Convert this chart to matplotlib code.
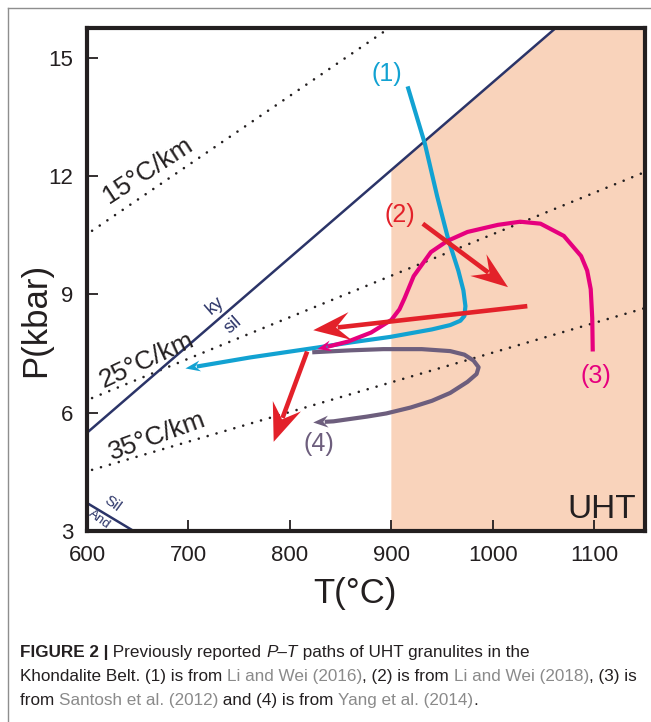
import matplotlib
matplotlib.use('Agg')
import matplotlib.pyplot as plt
import numpy as np
from matplotlib.patches import Polygon
from matplotlib.lines import Line2D

plt.rcParams['font.family'] = ['Liberation Sans', 'DejaVu Sans']

# --- data (T in deg C, P in kbar) ---
x_ticks = [600, 700, 800, 900, 1000, 1100]
y_ticks = [3, 6, 9, 12, 15]

geo_names = ['15°C/km', '25°C/km', '35°C/km']
geo_T = [[605, 898], [605, 1150], [605, 1150]]
geo_P = [[10.61, 15.75], [6.37, 12.1], [4.55, 8.65]]
geo_lab_T = [660, 659, 669]
geo_lab_P = [12.15, 7.32, 5.40]
geo_lab_rot = [33, 25, 20]

kysil_T = [600, 1062]
kysil_P = [5.49, 15.75]
siland_T = [600, 646]
siland_P = [3.71, 3.0]
uht_T = 900

# path (1) Li and Wei 2016
p1_T = [916, 933, 945, 956, 966, 971, 973, 972, 968, 958, 940, 899, 860, 827, 761, 697]
p1_P = [14.27, 12.82, 11.5, 10.40, 9.6, 9.1, 8.7, 8.45, 8.33, 8.22, 8.11, 7.92, 7.78, 7.65, 7.40, 7.12]

# path (2) Li and Wei 2018 (three arrows)
p2a_T = [931, 1015]
p2a_P = [10.79, 9.18]
p2b_T = [1034, 823]
p2b_P = [8.70, 8.09]
p2c_T = [817, 784]
p2c_P = [7.55, 5.26]

# path (3) Santosh et al. 2012
p3_T = [1098.5, 1098, 1096.5, 1093, 1087, 1070, 1047, 1027, 1005, 975, 955, 939,
        922, 913, 908, 900, 880, 857, 840, 827]
p3_P = [7.55, 8.4, 9.13, 9.6, 9.97, 10.48, 10.79, 10.84, 10.76, 10.58, 10.35, 10.07,
        9.46, 8.9, 8.62, 8.35, 8.03, 7.80, 7.69, 7.61]

# path (4) Yang et al. 2014
p4_T = [822, 860, 892, 930, 958, 972, 981, 986, 984, 975, 958, 940, 919, 895, 876, 843, 823]
p4_P = [7.53, 7.58, 7.61, 7.61, 7.56, 7.47, 7.32, 7.15, 6.98, 6.78, 6.50, 6.30, 6.13,
        5.98, 5.90, 5.78, 5.75]

path_labels = ['(1)', '(2)', '(3)', '(4)']
path_lab_T = [896, 908, 1101.5, 829]
path_lab_P = [14.58, 11.02, 6.92, 5.21]

# colours
dark = '#231F20'
navy = '#2B3468'
cyan = '#12A2D2'
red = '#E3212A'
magenta = '#E6007E'
purple = '#6D5E7D'
peach = '#F9D3BB'
linkc = '#8A8A8A'


def walk_back(pts, dist):
    acc = 0.0
    for i in range(len(pts) - 1, 0, -1):
        seg = pts[i] - pts[i - 1]
        s = np.hypot(seg[0], seg[1])
        if acc + s >= dist:
            f = (dist - acc) / s
            return pts[i] - seg * f, i
        acc += s
    return pts[0], 1


def arrow_path(ax, T, P, color, lw, hl, hw, notch, capstyle='butt'):
    tr = ax.transData
    inv = tr.inverted()
    pts = tr.transform(np.column_stack([T, P]))
    tip = pts[-1]
    back, _ = walk_back(pts, hl)
    d = (tip - back) / np.hypot(*(tip - back))
    n = np.array([-d[1], d[0]])
    cut, i = walk_back(pts, hl - notch + 1.5)
    shaft = inv.transform(np.vstack([pts[:i], cut]))
    ax.plot(shaft[:, 0], shaft[:, 1], color=color, lw=lw, solid_capstyle=capstyle,
            solid_joinstyle='round', zorder=4)
    head = np.array([tip,
                     tip - hl * d + hw / 2 * n,
                     tip - (hl - notch) * d,
                     tip - hl * d - hw / 2 * n])
    ax.add_patch(Polygon(inv.transform(head), closed=True, facecolor=color,
                         edgecolor='none', zorder=5))


fig = plt.figure(figsize=(6.51, 7.22), dpi=100)
ax = fig.add_axes([87 / 651, 191 / 722, 558 / 651, 503 / 722])
ax.set_xlim(600, 1150)
ax.set_ylim(3, 15.75)

# UHT field bounded by the ky-sil line
p_at_uht = np.interp(uht_T, kysil_T, kysil_P)
ax.fill([uht_T, uht_T, kysil_T[1], 1150, 1150],
        [3, p_at_uht, kysil_P[1], 15.75, 3], color=peach, lw=0, zorder=0)

# geotherms
for k in range(3):
    ax.plot(geo_T[k], geo_P[k], color=dark, lw=1.9, linestyle=(0, (0.01, 3.5)),
            dash_capstyle='round', zorder=2)
    ax.text(geo_lab_T[k], geo_lab_P[k], geo_names[k], fontsize=19, color=dark,
            rotation=geo_lab_rot[k], ha='center', va='center', zorder=3)

# reaction lines
ax.plot(kysil_T, kysil_P, color=navy, lw=1.8, zorder=2)
ax.plot(siland_T, siland_P, color=navy, lw=1.8, zorder=2)
ax.text(726, 8.72, 'ky', fontsize=13, color=navy, rotation=41, ha='center', va='center')
ax.text(744, 8.22, 'sil', fontsize=13, color=navy, rotation=41, ha='center', va='center')
ax.text(625, 3.70, 'Sil', fontsize=11, color=navy, rotation=-36, ha='center', va='center')
ax.text(612, 3.30, 'And', fontsize=9.5, color=navy, rotation=-36, ha='center', va='center')

# P-T paths
arrow_path(ax, p1_T, p1_P, cyan, 3.0, 15, 11, 5, capstyle='butt')
arrow_path(ax, p3_T, p3_P, magenta, 3.0, 14, 11, 5)
arrow_path(ax, p4_T, p4_P, purple, 3.0, 15, 12, 5)
arrow_path(ax, p2b_T, p2b_P, red, 3.3, 37, 28, 14)
arrow_path(ax, p2c_T, p2c_P, red, 3.3, 38, 30, 14)
arrow_path(ax, p2a_T, p2a_P, red, 3.3, 37, 27, 14)

for lab, t, p, c in zip(path_labels, path_lab_T, path_lab_P, [cyan, red, magenta, purple]):
    ax.text(t, p, lab, fontsize=18, color=c, ha='center', va='center', zorder=6)

ax.text(1141, 3.33, 'UHT', fontsize=24, color=dark, ha='right', va='baseline')

ax.set_xticks(x_ticks)
ax.set_yticks(y_ticks)
ax.tick_params(direction='in', length=8, width=1.3, labelsize=16, pad=10,
               colors=dark, top=False, right=False)
for s in ax.spines.values():
    s.set_linewidth(3)
    s.set_color(dark)
ax.set_xlabel('T(°C)', fontsize=25, color=dark)
ax.set_ylabel('P(kbar)', fontsize=25, color=dark)
ax.xaxis.set_label_coords(0.48, -0.092)
ax.yaxis.set_label_coords(-0.063, 0.42)

# outer frame lines
fig.add_artist(Line2D([8 / 651, 1], [1 - 8 / 722, 1 - 8 / 722], color='#8E8E8E', lw=1))
fig.add_artist(Line2D([8 / 651, 8 / 651], [0, 1 - 8 / 722], color='#8E8E8E', lw=1))

# caption
cap_lines = [
    [('FIGURE 2 |', 'bold'), (' Previously reported ', 'n'), ('P–T', 'italic'),
     (' paths of UHT granulites in the', 'n')],
    [('Khondalite Belt. (1) is from ', 'n'), ('Li and Wei (2016)', 'link'),
     (', (2) is from ', 'n'), ('Li and Wei (2018)', 'link'), (', (3) is', 'n')],
    [('from ', 'n'), ('Santosh et al. (2012)', 'link'), (' and (4) is from ', 'n'),
     ('Yang et al. (2014)', 'link'), ('.', 'n')],
]
cap_y = [657, 681, 705]
cap_fam = ['Liberation Sans Narrow', 'Liberation Sans', 'DejaVu Sans']
renderer = fig.canvas.get_renderer()


def text_width(s, **kw):
    a = fig.text(0, 0, '|' + s + '|', **kw)
    b = fig.text(0, 0, '||', **kw)
    w = a.get_window_extent(renderer).width - b.get_window_extent(renderer).width
    a.remove()
    b.remove()
    return w


for runs, yy in zip(cap_lines, cap_y):
    x = 20.0
    for s, st in runs:
        kw = dict(fontsize=12.3, family=cap_fam, color=dark)
        if st == 'bold':
            kw['fontweight'] = 'bold'
        elif st == 'italic':
            kw['fontstyle'] = 'italic'
        elif st == 'link':
            kw['color'] = linkc
        w = text_width(s, **kw)
        fig.text(x / 651, 1 - yy / 722, s, va='baseline', ha='left', **kw)
        x += w

fig.savefig('out.png', dpi=100)
